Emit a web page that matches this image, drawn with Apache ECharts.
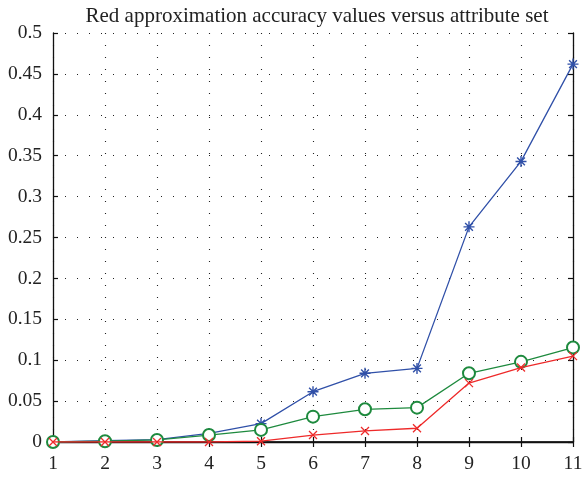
<!DOCTYPE html>
<html>
<head>
<meta charset="utf-8">
<script src="https://cdn.jsdelivr.net/npm/echarts@6/dist/echarts.min.js"></script>
<style>
html,body{margin:0;padding:0;background:#fff;}
#c{width:587px;height:478px;}
</style>
</head>
<body>
<div id="c"></div>
<script>
const titleText = 'Red approximation accuracy values versus attribute set';
const xValues = [1, 2, 3, 4, 5, 6, 7, 8, 9, 10, 11];
const blueValues  = [0, 0.0015, 0.003, 0.0105, 0.0225, 0.0615, 0.084, 0.090, 0.263, 0.343, 0.462];
const greenValues = [0, 0.001, 0.0025, 0.0085, 0.0148, 0.031, 0.040, 0.042, 0.084, 0.098, 0.1155];
const redValues   = [0, 0, 0, 0, 0.001, 0.0085, 0.0135, 0.0168, 0.072, 0.091, 0.105];

const FONT = '"Liberation Serif", "DejaVu Serif", serif';
const toPairs = arr => arr.map((v, i) => [xValues[i], v]);

const asterisk = 'path://M10,0 L10,20 M0,10 L20,10 M2.93,2.93 L17.07,17.07 M2.93,17.07 L17.07,2.93';
const cross = 'path://M0,0 L20,20 M0,20 L20,0';

const axisLine = {show: true, lineStyle: {color: '#111', width: 1.3}};
const tickIn = {show: true, inside: true, length: 5, lineStyle: {color: '#111', width: 1.2}};
const labelStyle = {color: '#222', fontFamily: FONT, fontSize: 19.5};
const gridDots = {show: true, lineStyle: {color: '#222', type: [1, 11], width: 1.1}};

const chart = echarts.init(document.getElementById('c'), null, {renderer: 'canvas'});
chart.setOption({
  animation: false,
  backgroundColor: '#fff',
  title: {
    text: titleText,
    left: 312, textAlign: 'center', top: 1,
    textStyle: {fontFamily: FONT, fontSize: 21, fontWeight: 'normal', color: '#222'}
  },
  grid: {left: 53, right: 14, top: 33, bottom: 36, containLabel: false},
  xAxis: [
    {
      type: 'value', min: 1, max: 11, interval: 1, position: 'bottom',
      axisLine: {show: true, lineStyle: {color: '#333', width: 2}}, axisTick: tickIn,
      axisLabel: Object.assign({margin: 12}, labelStyle),
      splitLine: gridDots
    },
    {
      type: 'value', min: 1, max: 11, interval: 1, position: 'top',
      axisLine: axisLine, axisTick: tickIn, axisLabel: {show: false}, splitLine: {show: false}
    }
  ],
  yAxis: [
    {
      type: 'value', min: 0, max: 0.5, interval: 0.05, position: 'left',
      axisLine: axisLine, axisTick: tickIn,
      axisLabel: Object.assign({margin: 11}, labelStyle),
      splitLine: gridDots
    },
    {
      type: 'value', min: 0, max: 0.5, interval: 0.05, position: 'right',
      axisLine: axisLine, axisTick: tickIn, axisLabel: {show: false}, splitLine: {show: false}
    }
  ],
  series: [
    {
      type: 'line', data: toPairs(blueValues),
      symbol: asterisk, symbolSize: 11,
      lineStyle: {color: '#3050a8', width: 1.3},
      itemStyle: {color: 'rgba(0,0,0,0)', borderColor: '#3050a8', borderWidth: 1.4},
      z: 3
    },
    {
      type: 'line', data: toPairs(greenValues),
      symbol: 'emptyCircle', symbolSize: 12,
      lineStyle: {color: '#1e8a3e', width: 1.3},
      itemStyle: {color: '#1e8a3e', borderColor: '#1e8a3e', borderWidth: 1.3},
      z: 4
    },
    {
      type: 'line', data: toPairs(redValues),
      symbol: cross, symbolSize: 8,
      lineStyle: {color: '#ee2a2a', width: 1.3},
      itemStyle: {color: 'rgba(0,0,0,0)', borderColor: '#ee2a2a', borderWidth: 1.3},
      z: 5
    }
  ]
});
</script>
</body>
</html>
